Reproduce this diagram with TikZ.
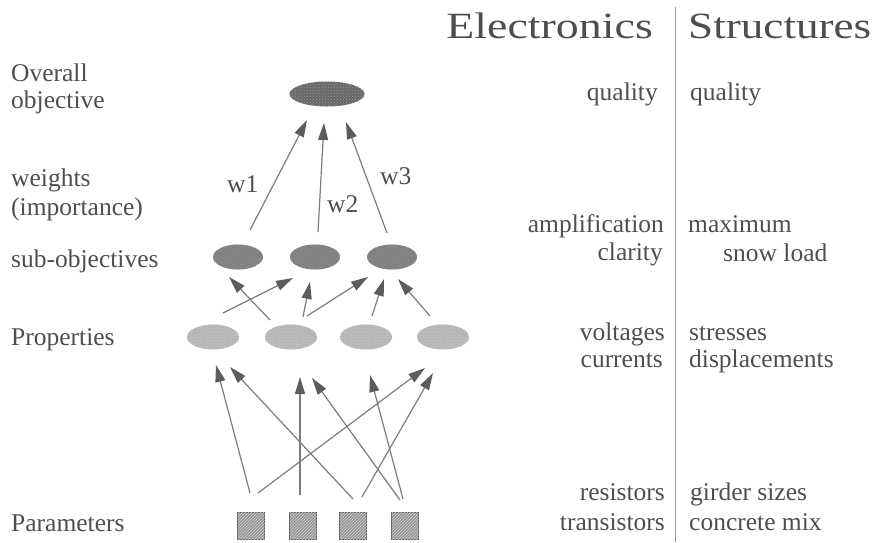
\documentclass[tikz,border=0pt]{standalone}
\usepackage{fontspec}
\usepackage{graphicx}
\setmainfont{Liberation Serif}
\usetikzlibrary{shapes.geometric,arrows.meta,calc,patterns}

\definecolor{ink}{HTML}{4E4E4E}
\definecolor{edgegray}{HTML}{7C7C7C}
\definecolor{headgray}{HTML}{5C5C5C}
\definecolor{goalfill}{HTML}{686868}
\definecolor{subfill}{HTML}{808080}
\definecolor{propfill}{HTML}{BCBCBC}
\definecolor{parfill}{HTML}{959595}
\definecolor{parline}{HTML}{5E5E5E}

\begin{document}
\begin{tikzpicture}[x=1pt,y=-1pt,
  lbl/.style={font=\rmfamily\fontsize{25.5}{28}\selectfont, text=ink, inner sep=0pt},
  heading/.style={font=\rmfamily\fontsize{37}{40}\selectfont, text=ink, inner sep=0pt},
  goalnode/.style={ellipse, minimum width=75pt, minimum height=25pt, inner sep=0pt,
    fill=goalfill, postaction={pattern=crosshatch dots, pattern color=black!40}},
  subnode/.style={ellipse, minimum width=50pt, minimum height=25pt, inner sep=0pt,
    fill=subfill, postaction={pattern=north east lines, pattern color=black!45}},
  propnode/.style={ellipse, minimum width=52pt, minimum height=25pt, inner sep=0pt,
    fill=propfill, postaction={pattern=crosshatch dots, pattern color=gray!70}},
  parnode/.style={rectangle, minimum size=27pt, inner sep=0pt,
    fill=parfill, draw=parline, line width=1.4pt,
    postaction={pattern=north east lines, pattern color=gray!35}},
  link/.style={draw=edgegray, line width=1.2pt,
    -{Triangle[length=17pt,width=10pt,fill=headgray,color=headgray]}},
]
\useasboundingbox (0,0) rectangle (872,542);

% ---- hierarchy nodes ----
\node[goalnode] (goal) at (327,94) {};

\node[subnode] (s1) at (238,257) {};
\node[subnode] (s2) at (315,257) {};
\node[subnode] (s3) at (392,257) {};

\node[propnode] (q1) at (213,337) {};
\node[propnode] (q2) at (291,337) {};
\node[propnode] (q3) at (366,337) {};
\node[propnode] (q4) at (443,337) {};

\node[parnode] (p1) at (251,526) {};
\node[parnode] (p2) at (303,526) {};
\node[parnode] (p3) at (353,526) {};
\node[parnode] (p4) at (405,526) {};

% ---- weighted links to the overall objective ----
\draw[link] ($(s1)+(12,-27)$) -- ($(goal)+(-20,26)$);
\draw[link] ($(s2)+(3,-25)$)  -- ($(goal)+(-3,29)$);
\draw[link] ($(s3)+(-5,-24)$) -- ($(goal)+(19,28)$);
\node[lbl, anchor=base west] (w1) at (227,192) {w1};
\node[lbl, anchor=base west] (w2) at (327,212) {w2};
\node[lbl, anchor=base west] (w3) at (380,184) {w3};

% ---- properties to sub-objectives ----
\draw[link] ($(q2)+(-21,-17)$) -- ($(s1)+(-9,20)$);
\draw[link] ($(q1)+(10,-24)$)  -- ($(s2)+(-22,21)$);
\draw[link] ($(q2)+(12,-20)$)  -- ($(s2)+(-5,25)$);
\draw[link] ($(q2)+(16,-21)$)  -- ($(s3)+(-24,20)$);
\draw[link] ($(q3)+(6,-21)$)   -- ($(s3)+(-8,22)$);
\draw[link] ($(q4)+(-13,-21)$) -- ($(s3)+(6,22)$);

% ---- parameters to properties ----
\draw[link] ($(p1)+(-1,-33)$) -- ($(q1)+(3,28)$);
\draw[link] ($(p3)+(0,-27)$)  -- ($(q1)+(17,30)$);
\draw[link] ($(p2)+(-3,-31)$) -- ($(q2)+(9,40)$);
\draw[link] ($(p4)+(-5,-26)$) -- ($(q2)+(21,41)$);
\draw[link] ($(p1)+(7,-33)$)  -- ($(q4)+(-18,31)$);
\draw[link] ($(p4)+(-2,-27)$) -- ($(q3)+(4,38)$);
\draw[link] ($(p3)+(9,-29)$)  -- ($(q4)+(-10,36)$);

% ---- level names ----
\node[lbl, anchor=base west] (lv1a) at (11,81)  {Overall};
\node[lbl, anchor=base west] (lv1b) at (11,108) {objective};
\node[lbl, anchor=base west] (lv2a) at (11,186) {weights};
\node[lbl, anchor=base west] (lv2b) at (11,215) {(importance)};
\node[lbl, anchor=base west] (lv3)  at (11,267) {sub-objectives};
\node[lbl, anchor=base west] (lv4)  at (11,345) {Properties};
\node[lbl, anchor=base west] (lv5)  at (11,531) {Parameters};

% ---- two application columns ----
\coordinate (divtop) at (675,7);
\coordinate (divbot) at (675,542);
\draw[edgegray!80, line width=0.8pt] (divtop) -- (divbot);

\node[heading, anchor=base east] (hE) at (653,38) {\scalebox{1.24}[1]{Electronics}};
\node[heading, anchor=base west] (hS) at (688,38) {\scalebox{1.22}[1]{Structures}};

\node[lbl, anchor=base east] (e1)  at (658,100) {quality};
\node[lbl, anchor=base east] (e2a) at (664,232) {amplification};
\node[lbl, anchor=base east] (e2b) at (663,260) {clarity};
\node[lbl, anchor=base east] (e3a) at (665,340) {voltages};
\node[lbl, anchor=base east] (e3b) at (663,367) {currents};
\node[lbl, anchor=base east] (e4a) at (665,500) {resistors};
\node[lbl, anchor=base east] (e4b) at (665,530) {transistors};

\node[lbl, anchor=base west] (t1)  at (690,100) {quality};
\node[lbl, anchor=base west] (t2a) at (688,232) {maximum};
\node[lbl, anchor=base west] (t2b) at (723,261) {snow load};
\node[lbl, anchor=base west] (t3a) at (689,340) {stresses};
\node[lbl, anchor=base west] (t3b) at (689,367) {displacements};
\node[lbl, anchor=base west] (t4a) at (690,500) {girder sizes};
\node[lbl, anchor=base west] (t4b) at (689,530) {concrete mix};
\end{tikzpicture}
\end{document}
